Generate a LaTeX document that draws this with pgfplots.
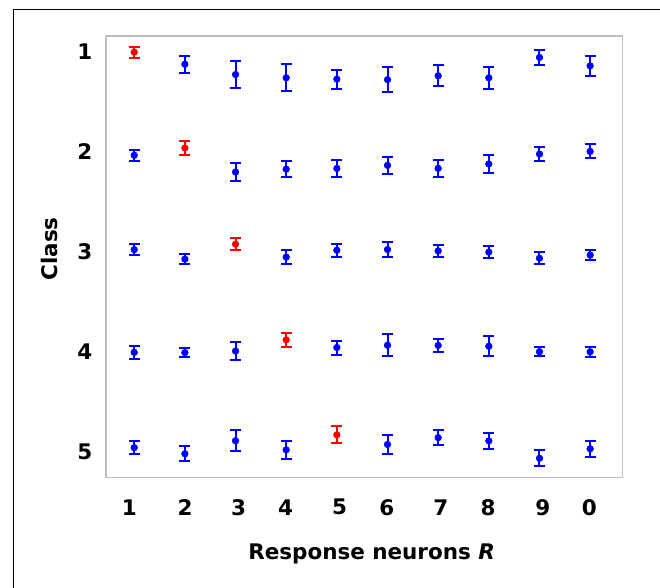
\documentclass[border=0pt]{standalone}
\usepackage{fontspec}
\setmainfont{DejaVu Sans}
\usepackage{pgfplots}
\pgfplotsset{compat=1.18}
\usepackage{pgfplotstable}
\definecolor{axgray}{RGB}{190,190,190}

\pgfplotstableread{
x y e
2 1.128 0.085
3 1.231 0.133
4 1.263 0.133
5 1.277 0.096
6 1.282 0.123
7 1.243 0.105
8 1.264 0.108
9 1.060 0.075
10 1.144 0.098
1 2.037 0.053
3 2.204 0.093
4 2.175 0.081
5 2.168 0.081
6 2.137 0.088
7 2.167 0.086
8 2.123 0.091
9 2.024 0.066
10 1.998 0.070
1 2.978 0.058
2 3.073 0.048
4 3.052 0.070
5 2.984 0.066
6 2.977 0.077
7 2.991 0.058
8 3.003 0.060
9 3.064 0.058
10 3.032 0.046
1 4.003 0.066
2 4.006 0.048
3 3.990 0.093
5 3.955 0.070
6 3.932 0.110
7 3.934 0.061
8 3.942 0.100
9 3.997 0.047
10 3.998 0.053
1 4.954 0.062
2 5.015 0.076
3 4.885 0.103
4 4.976 0.093
6 4.922 0.098
7 4.854 0.075
8 4.886 0.082
9 5.060 0.080
10 4.965 0.080
}\bluedata

\pgfplotstableread{
x y e
1 1.008 0.055
2 1.964 0.066
3 2.924 0.058
4 3.878 0.072
5 4.826 0.086
}\reddata

\begin{document}
\begin{tikzpicture}[x=0.75pt,y=0.75pt]
\useasboundingbox (-106,-109.7) rectangle (554,477.3);
\begin{axis}[
  at={(0,0)}, anchor=south west,
  scale only axis, width=387.5pt, height=331pt,
  xmin=0.443, xmax=10.642, ymin=0.846, ymax=5.25,
  y dir=reverse,
  axis line style={draw=axgray, line width=1pt},
  major tick length=0pt,
  tick style={draw=none},
  xtick={0.902,2.002,3.060,3.990,5.054,5.985,7.055,7.986,9.066,9.982},
  xticklabels={1,2,3,4,5,6,7,8,9,0},
  ytick={1,2,3,4,5},
  yticklabels={1,2,3,4,5},
  /pgf/number format/assume math mode=true,
  ticklabel style={font=\fontsize{16.1}{19}\selectfont\bfseries, inner sep=0pt},
  xticklabel style={anchor=center, yshift=-22.5pt},
  yticklabel style={anchor=east, xshift=-10.1pt},
  label style={font=\fontsize{16.1}{19}\selectfont\bfseries, inner sep=0pt},
  xlabel={Response neurons \textit{R}},
  ylabel={Class},
  xlabel style={at={(axis description cs:0.514,-0.1745)}, anchor=center},
  ylabel style={at={(axis description cs:-0.1103,0.5175)}, anchor=center},
]
\addplot[only marks, color=blue, mark=*, mark size=2.5pt,
  error bars/.cd, y dir=both, y explicit,
  error bar style={line width=1.5pt, color=blue},
  error mark options={rotate=90, mark size=4.1pt, line width=1.5pt, color=blue}]
  table[x=x, y=y, y error=e] {\bluedata};
\addplot[only marks, color=red, mark=*, mark size=2.5pt,
  error bars/.cd, y dir=both, y explicit,
  error bar style={line width=1.5pt, color=red},
  error mark options={rotate=90, mark size=4.1pt, line width=1.5pt, color=red}]
  table[x=x, y=y, y error=e] {\reddata};
\end{axis}
\draw[line width=1.1pt, black] (-92.5,-120) -- (-92.5,468.3);
\draw[line width=1.1pt, black] (-93.2,467.8) -- (570,467.8);
\end{tikzpicture}
\end{document}
